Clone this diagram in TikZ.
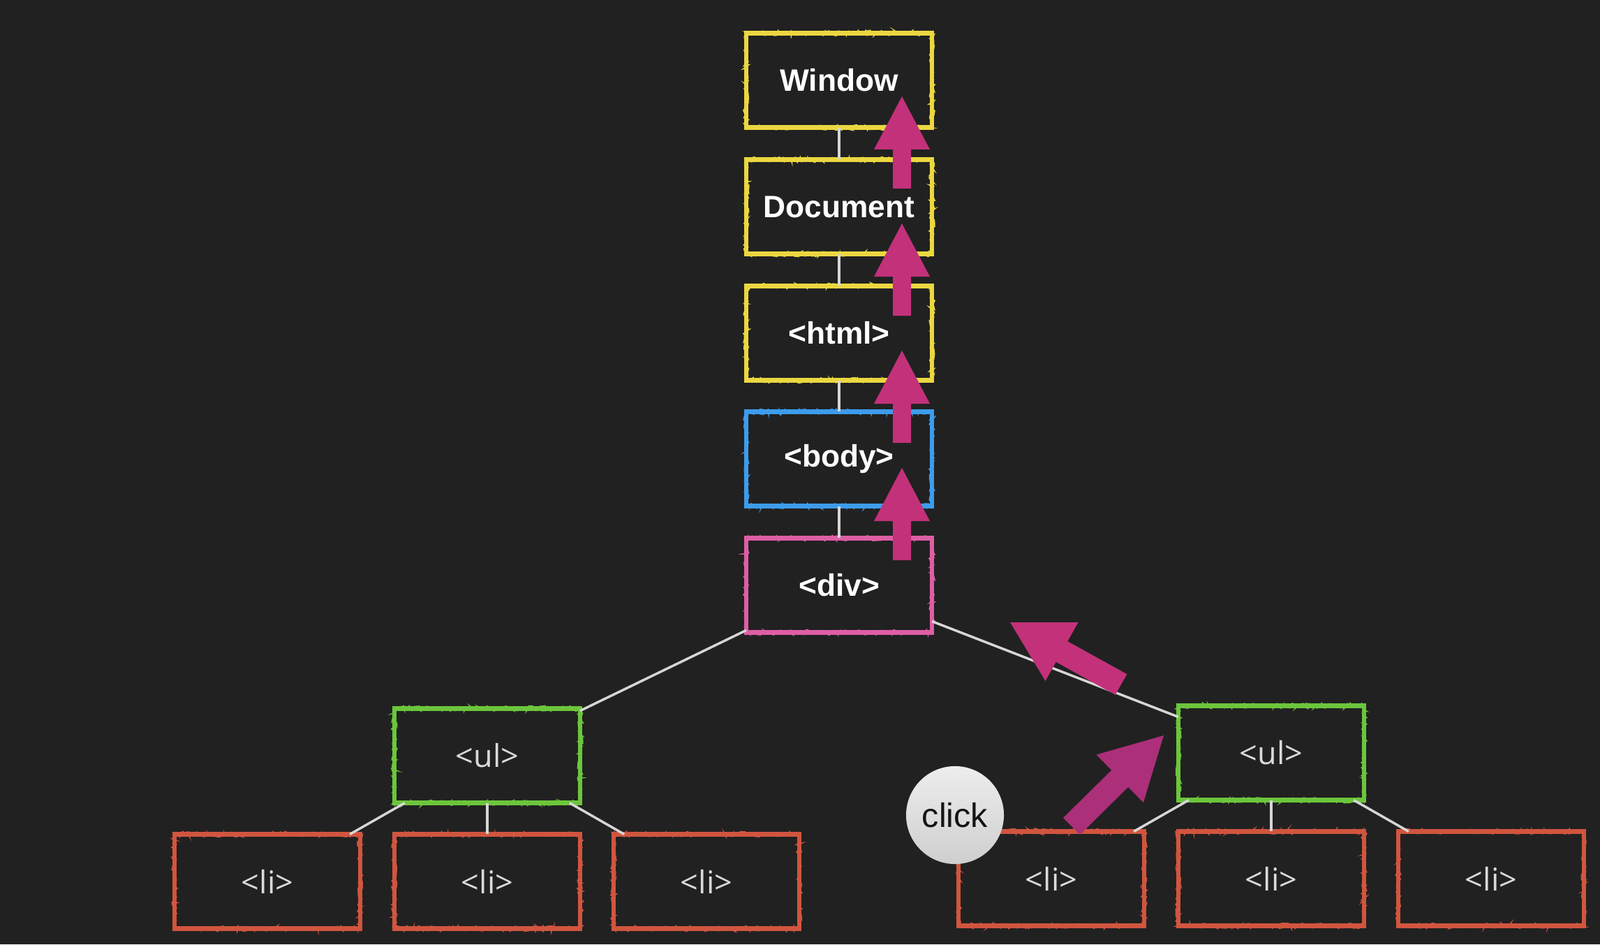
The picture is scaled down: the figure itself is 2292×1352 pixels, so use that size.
\documentclass[tikz,border=0pt]{standalone}
\usepackage{fontspec}
\setmainfont{Liberation Sans}
\newfontfamily\tagfont{Open Sans}
\usetikzlibrary{decorations.pathmorphing}
\definecolor{bg}{HTML}{212121}
\definecolor{cyel}{HTML}{EBD740}
\definecolor{cblue}{HTML}{3C9CEC}
\definecolor{cpink}{HTML}{DE5EA4}
\definecolor{cgreen}{HTML}{6CC63C}
\definecolor{cred}{HTML}{D1553F}
\definecolor{mag}{HTML}{C2317A}
\definecolor{magb}{HTML}{AC2F79}
\definecolor{linec}{HTML}{D6D6D6}
\definecolor{tagc}{HTML}{DADADA}
\newcommand\magup[1]{\fill[mag] (1292,#1) -- ++(40,76) -- ++(-27,0) -- ++(0,56) -- ++(-26,0) -- ++(0,-56) -- ++(-27,0) -- cycle;}
\tikzset{
  chalkbox/.style={draw=#1, line width=1.9pt, minimum width=2.66cm, minimum height=1.35cm,
    inner sep=0pt, outer sep=0pt,
    postaction={draw=#1, line width=0.5pt, decorate,
      decoration={random steps, segment length=0.8pt, amplitude=1.1pt}}},
  topbox/.style={chalkbox=#1, text=white, font=\bfseries\fontsize{12.6}{15}\selectfont},
  tagbox/.style={chalkbox=#1, text=tagc, font=\tagfont\fontsize{12.8}{15}\selectfont},
  conn/.style={draw=linec, line width=1pt},
}
\begin{document}
\begin{tikzpicture}[x=0.01cm,y=-0.01cm]
\fill[bg] (0,0) rectangle (2292,1352);
\useasboundingbox (0,0) rectangle (2292,1352);

% top column
\node[topbox=cyel]  (win)  at (1202,115) {Window};
\node[topbox=cyel]  (doc)  at (1202,296) {Document};
\node[topbox=cyel]  (html) at (1202,477) {<html>};
\node[topbox=cblue] (body) at (1202,657) {<body>};
\node[topbox=cpink] (div)  at (1202,838) {<div>};

% lists
\node[tagbox=cgreen] (ulL) at (698,1082) {<ul>};
\node[tagbox=cgreen] (ulR) at (1821,1078) {<ul>};
\node[tagbox=cred] (li1) at (383,1262) {<li>};
\node[tagbox=cred] (li2) at (698,1262) {<li>};
\node[tagbox=cred] (li3) at (1012,1262) {<li>};
\node[tagbox=cred] (li4) at (1506,1258) {<li>};
\node[tagbox=cred] (li5) at (1821,1258) {<li>};
\node[tagbox=cred] (li6) at (2136,1258) {<li>};

% connectors
\draw[conn] (win) -- (doc);
\draw[conn] (doc) -- (html);
\draw[conn] (html) -- (body);
\draw[conn] (body) -- (div);
\draw[conn] (div) -- (ulL);
\draw[conn] (div) -- (ulR);
\draw[conn] (ulL) -- (li1);
\draw[conn] (ulL) -- (li2);
\draw[conn] (ulL) -- (li3);
\draw[conn] (ulR) -- (li4);
\draw[conn] (ulR) -- (li5);
\draw[conn] (ulR) -- (li6);

% click
\node[circle, minimum size=1.4cm, inner sep=0pt, shading=axis, top color=white!93!black,
  bottom color=white!81!black, text=black!92, font=\fontsize{13.8}{16}\selectfont]
  (click) at (1368,1167) {click};

% propagation arrows
\magup{138}
\magup{320}
\magup{502}
\magup{670}
\fill[mag] (1447,891) -- (1544.5,891) -- (1529.3,918.2) -- (1614.3,965.2)
  -- (1597.7,994.8) -- (1512.7,947.8) -- (1497.5,975) -- cycle;
\fill[magb] (1667,1053) -- (1637.9,1149.0) -- (1616.1,1126.9) -- (1547,1195.1)
  -- (1523,1170.9) -- (1592.3,1102.7) -- (1570.5,1080.5) -- cycle;
\end{tikzpicture}
\end{document}
